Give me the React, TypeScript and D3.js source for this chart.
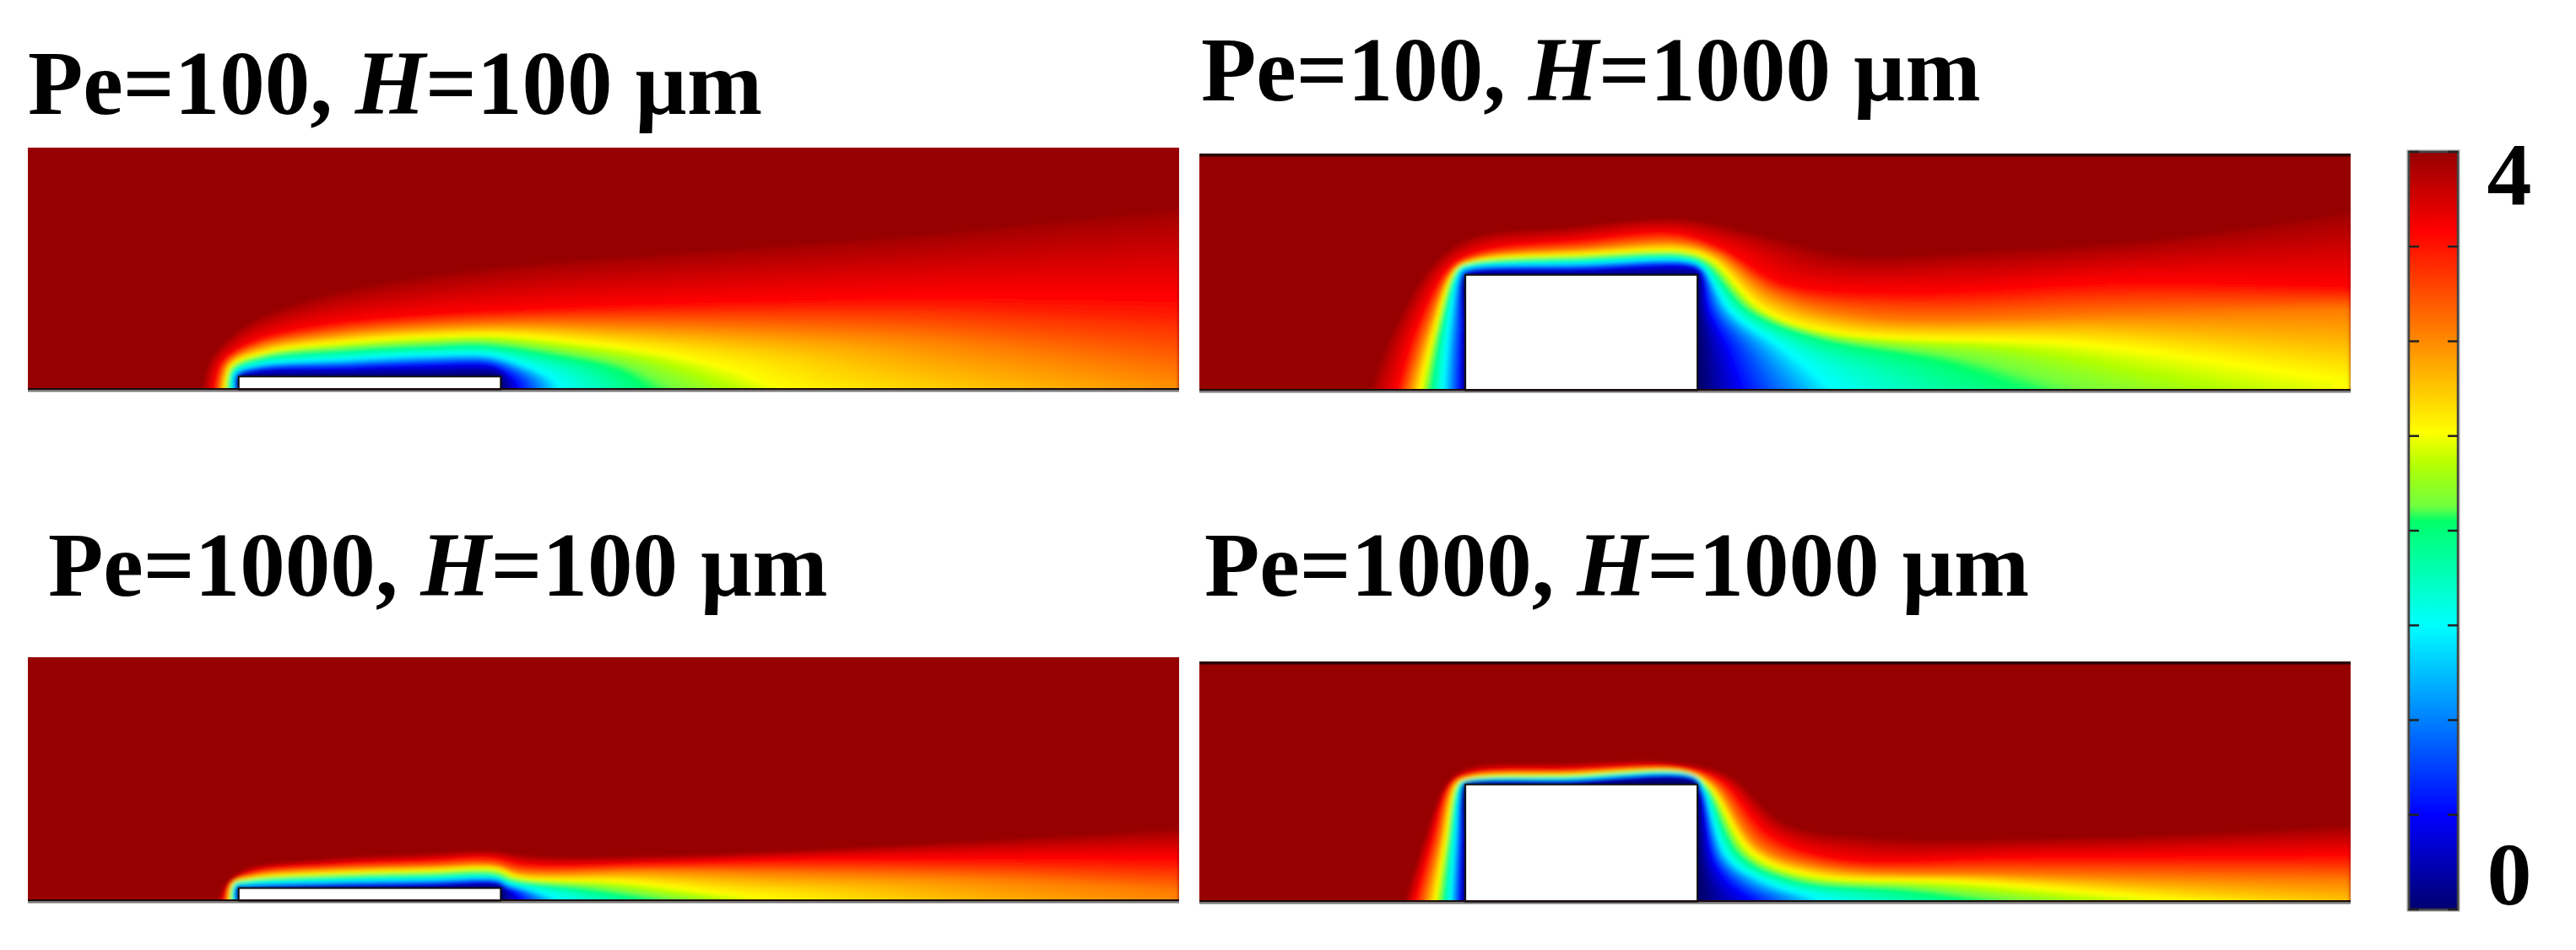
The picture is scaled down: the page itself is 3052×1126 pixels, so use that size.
import React from "react";
import * as d3 from "d3";

type P = [number, number];

// Colour bar
const barValues = [0, 0.5, 1, 1.5, 2, 2.05, 2.13, 2.35, 2.52, 3.04, 3.58, 4];
const barColors = ["#000070", "#0000ff", "#0080ff", "#00ffff", "#00ff78", "#00ff68", "#70ff40", "#b4ff00", "#ffff00", "#ff8000", "#ff0000", "#960000"];
const barTicks = [0, 0.5, 1, 1.5, 2, 2.5, 3, 3.5, 4];
const barLabels = ["0", "4"];

// Concentration of each traced iso-line, outermost first
const levels = [3.94, 3.56, 3.04, 2.52, 2.0, 1.5, 0.5, 0];

// Pe=100, H=100 um: iso-lines
const a1: P[] = [[265,905],[275,800],[320,680],[400,590],[520,520],[700,460],[850,430],[1000,400],[1200,360],[1350,320],[1543,270]];
const b1: P[] = [[280,905],[290,810],[330,735],[420,675],[550,640],[680,620],[800,605],[1000,585],[1200,570],[1350,570],[1543,575]];
const c1: P[] = [[287,905],[298,810],[340,750],[440,705],[560,680],[680,670],[800,675],[1000,690],[1200,720],[1350,770],[1543,850]];
const d1: P[] = [[294,905],[302,820],[350,770],[450,735],[560,715],[650,710],[760,735],[880,780],[960,830],[1040,905],[1543,1150]];
const e1: P[] = [[299,905],[304,835],[345,790],[450,765],[560,750],[630,745],[720,780],[800,830],[830,880],[840,905],[900,1000]];
const f1: P[] = [[304,905],[307,845],[340,815],[450,795],[560,780],[640,780],[680,810],[715,850],[730,880],[735,905],[780,1000]];
const g1: P[] = [[310,905],[311,858],[335,835],[450,825],[560,815],[640,815],[658,835],[670,860],[678,885],[680,905],[700,1000]];
const h1: P[] = [[312,905],[312,858],[335,855],[450,852],[560,852],[650,852],[656,858],[656,870],[656,885],[656,905],[656,1000]];

// Pe=100, H=1000 um
const a2: P[] = [[240,880],[265,700],[320,440],[370,340],[500,300],[650,270],[760,330],[870,400],[1100,380],[1300,340],[1540,250]];
const b2: P[] = [[275,880],[300,660],[345,440],[385,385],[520,345],[640,320],[705,375],[790,500],[950,530],[1250,490],[1540,510]];
const c2: P[] = [[290,880],[315,660],[350,450],[385,405],[520,375],[650,355],[700,395],[775,540],[900,620],[1250,610],[1540,590]];
const d2: P[] = [[305,880],[325,660],[352,450],[375,420],[520,395],[660,385],[695,420],[760,590],[850,670],[1200,715],[1540,840]];
const e2: P[] = [[318,880],[332,660],[356,450],[372,430],[520,410],[655,400],[685,430],[740,590],[830,690],[1000,790],[1200,1000]];
const f2: P[] = [[335,880],[342,660],[358,455],[370,440],[520,425],[655,415],[680,440],[720,600],[790,730],[850,860],[900,1000]];
const g2: P[] = [[358,880],[360,660],[363,470],[372,455],[520,445],[665,435],[678,455],[690,600],[715,730],[735,870],[750,950]];
const h2: P[] = [[364,880],[364,660],[364,468],[372,466],[520,465],[665,465],[673,466],[675,600],[678,730],[680,880],[680,950]];

// Pe=1000, H=100 um
const a3: P[] = [[285,893],[295,830],[320,780],[420,745],[560,725],[640,715],[700,735],[900,730],[1150,700],[1350,670],[1543,640]];
const b3: P[] = [[293,893],[300,835],[330,790],[430,765],[560,750],[640,740],[690,765],[850,760],[1050,745],[1300,740],[1543,740]];
const c3: P[] = [[297,893],[303,830],[335,800],[430,780],[560,770],[645,765],[680,790],[850,785],[1050,795],[1300,815],[1543,860]];
const d3l: P[] = [[300,893],[305,830],[330,812],[430,795],[560,785],[650,780],[680,810],[820,825],[930,860],[1000,885],[1400,1100]];
const e3: P[] = [[303,893],[306,835],[325,822],[430,808],[560,800],[645,797],[670,820],[760,850],[830,880],[850,893],[880,950]];
const f3: P[] = [[306,893],[308,840],[325,832],[430,822],[560,815],[650,812],[665,830],[700,855],[725,880],[735,893],[750,950]];
const g3: P[] = [[310,893],[310,847],[325,845],[430,838],[560,832],[652,828],[662,845],[672,860],[680,880],[685,893],[690,950]];
const h3: P[] = [[312,893],[312,847],[325,847],[430,845],[560,845],[655,845],[656,847],[657,860],[657,880],[657,893],[657,950]];

// Pe=1000, H=1000 um
const a4: P[] = [[285,868],[310,650],[340,450],[365,395],[500,375],[640,370],[715,420],[790,590],[900,640],[1200,640],[1540,600]];
const b4: P[] = [[298,868],[320,660],[345,450],[372,410],[500,397],[650,390],[705,440],[770,630],[860,715],[1100,710],[1540,700]];
const c4: P[] = [[312,868],[330,660],[350,450],[372,420],[500,408],[655,400],[695,450],[755,670],[840,745],[1100,770],[1540,790]];
const d4: P[] = [[325,868],[338,660],[354,450],[370,428],[500,415],[660,408],[690,460],[745,690],[820,770],[1050,800],[1540,920]];
const e4: P[] = [[335,868],[344,660],[357,450],[368,435],[500,424],[665,415],[685,465],[730,700],[800,790],[950,830],[1150,920]];
const f4: P[] = [[345,868],[350,660],[360,450],[368,438],[500,430],[668,423],[682,470],[715,710],[770,800],[840,860],[870,900]];
const g4: P[] = [[358,868],[360,660],[363,450],[368,442],[500,438],[670,432],[678,480],[695,720],[715,800],[745,860],[760,900]];
const h4: P[] = [[364,868],[364,660],[364,450],[370,448],[500,448],[672,448],[674,480],[677,720],[680,800],[682,868],[682,900]];

const titles = [
  { a: "Pe=100, ", b: "=100 µm", x: 33, y: 135 },
  { a: "Pe=100, ", b: "=1000 µm", x: 1423, y: 119 },
  { a: "Pe=1000, ", b: "=100 µm", x: 57, y: 706 },
  { a: "Pe=1000, ", b: "=1000 µm", x: 1427, y: 706 },
];

const panels = [
  { lines: [a1,b1,c1,d1,e1,f1,g1,h1], read: [36,1543,905,45], box: [33,1397,462,175], block: [312,655,858], topLine: false },
  { lines: [a2,b2,c2,d2,e2,f2,g2,h2], read: [12,1540,880,42], box: [1421,2785,463,184], block: [365,673,468], topLine: true },
  { lines: [a3,b3,c3,d3l,e3,f3,g3,h3], read: [36,1543,893,28], box: [33,1397,1068,779], block: [312,655,847], topLine: false },
  { lines: [a4,b4,c4,d4,e4,f4,g4,h4], read: [12,1540,868,18], box: [1421,2785,1069,786], block: [365,673,450], topLine: true },
];

const color = d3.scaleLinear<string>().domain(barValues).range(barColors).interpolate(d3.interpolateRgb);
const SUB = 14;
const serif = "'Liberation Serif', 'Times New Roman', serif";

function Panel({ p, i }: { p: (typeof panels)[number]; i: number }) {
  const [rx0, rx1, ry0, ry1] = p.read;
  const [px0, px1, py0, py1] = p.box;
  const x = d3.scaleLinear().domain([rx0, rx1]).range([px0, px1]);
  const y = d3.scaleLinear().domain([ry0, ry1]).range([py0, py1]);
  const line = d3.line<P>().x((d) => x(d[0])).y((d) => y(d[1])).curve(d3.curveCatmullRom.alpha(0.5));
  const below = y(ry0 + 600);
  const bands: { d: string; fill: string }[] = [];
  for (let k = 0; k < p.lines.length; k++) {
    const steps = k === p.lines.length - 1 ? 1 : SUB;
    for (let s = 0; s < steps; s++) {
      const t = s / steps;
      const next = p.lines[Math.min(k + 1, p.lines.length - 1)];
      const pts = p.lines[k].map((q, j) => [q[0] + (next[j][0] - q[0]) * t, q[1] + (next[j][1] - q[1]) * t] as P);
      const v = levels[k] + (levels[Math.min(k + 1, levels.length - 1)] - levels[k]) * t;
      const d = `${line(pts)}L${x(pts[pts.length - 1][0])},${below}L${x(pts[0][0])},${below}Z`;
      bands.push({ d, fill: color(v) });
    }
  }
  const [bx0, bx1, bTop] = p.block;
  return (
    <g>
      <clipPath id={`clip${i}`}>
        <rect x={px0} y={py1} width={px1 - px0} height={py0 - py1} />
      </clipPath>
      <g clipPath={`url(#clip${i})`}>
        <rect x={px0} y={py1} width={px1 - px0} height={py0 - py1} fill={color(4)} />
        <g filter="url(#soft)">
          {bands.map((b, j) => (
            <path key={j} d={b.d} fill={b.fill} />
          ))}
        </g>
      </g>
      <rect x={x(bx0)} y={y(bTop)} width={x(bx1) - x(bx0)} height={py0 - y(bTop)} fill="#fff" stroke="#111" strokeWidth={2} />
      <rect x={px0} y={py0 - 2} width={px1 - px0} height={2.5} fill="#1a0a0a" />
      <rect x={px0} y={py0 + 0.5} width={px1 - px0} height={2} fill="#777" />
      {p.topLine && <rect x={px0} y={py1 - 2} width={px1 - px0} height={3.5} fill="#2a0505" />}
    </g>
  );
}

export default function App() {
  const barY = d3.scaleLinear().domain([0, 4]).range([1078, 180]);
  const barX0 = 2854;
  const barX1 = 2912;
  return (
    <svg width={3052} height={1126} style={{ position: "fixed", left: 0, top: 0, display: "block", background: "#fff" }}>
      <defs>
        <filter id="soft" filterUnits="userSpaceOnUse" x={0} y={0} width={3052} height={1300}>
          <feGaussianBlur stdDeviation={2} />
        </filter>
        <filter id="txt" filterUnits="userSpaceOnUse" x={0} y={0} width={3052} height={1126}>
          <feGaussianBlur stdDeviation={0.6} />
        </filter>
        <linearGradient id="bar" x1={0} y1={1} x2={0} y2={0}>
          {barValues.map((v, i) => (
            <stop key={i} offset={v / 4} stopColor={barColors[i]} />
          ))}
        </linearGradient>
      </defs>
      {panels.map((p, i) => (
        <Panel key={i} p={p} i={i} />
      ))}
      <g filter="url(#txt)">
        {titles.map((t, i) => (
          <text key={i} x={t.x} y={t.y} fontFamily={serif} fontWeight="bold" fontSize={107} fill="#000">
            {t.a}
            <tspan fontStyle="italic">H</tspan>
            {t.b}
          </text>
        ))}
        <text x={2973} y={243} textAnchor="middle" fontFamily={serif} fontWeight="bold" fontSize={106}>{barLabels[1]}</text>
        <text x={2973} y={1072} textAnchor="middle" fontFamily={serif} fontWeight="bold" fontSize={106}>{barLabels[0]}</text>
      </g>
      <rect x={barX0} y={barY(4)} width={barX1 - barX0} height={barY(0) - barY(4)} fill="none" stroke="#aaa" strokeWidth={5} />
      <rect x={barX0} y={barY(4)} width={barX1 - barX0} height={barY(0) - barY(4)} fill="url(#bar)" stroke="#444" strokeWidth={2.5} />
      {barTicks.map((v) => (
        <g key={v} stroke="#222" strokeWidth={2.5}>
          <line x1={barX0} x2={barX0 + 12} y1={barY(v)} y2={barY(v)} />
          <line x1={barX1 - 12} x2={barX1} y1={barY(v)} y2={barY(v)} />
        </g>
      ))}
    </svg>
  );
}
